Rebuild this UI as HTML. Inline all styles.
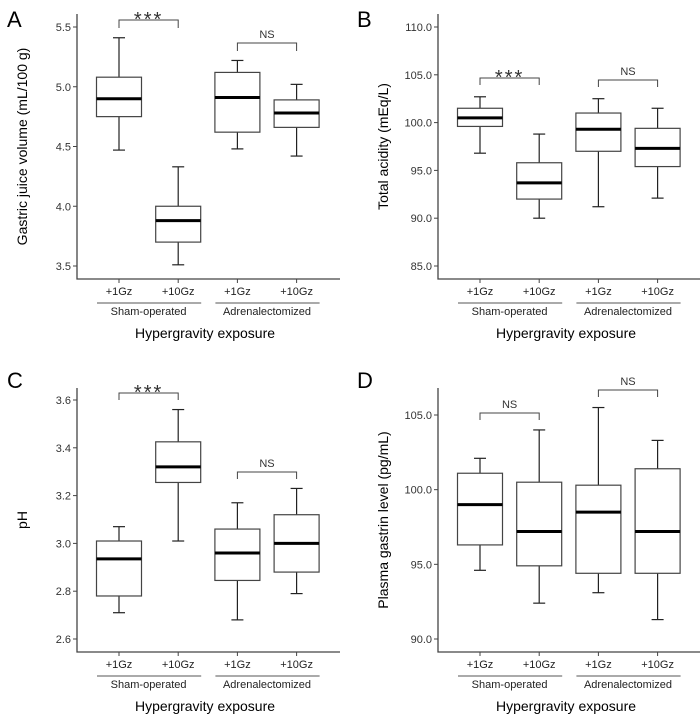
<!DOCTYPE html>
<html><head><meta charset="utf-8"><style>
body{margin:0;background:#fff}
svg{display:block;font-family:"Liberation Sans",sans-serif}
</style></head><body>
<svg id="fig" width="700" height="722" viewBox="0 0 700 722"></svg>
<script>
const groupLabels = ["+1Gz","+10Gz","+1Gz","+10Gz"];
const aWhiskLo=[4.47,3.51,4.48,4.42], aQ1=[4.75,3.70,4.62,4.66], aMed=[4.90,3.88,4.91,4.78], aQ3=[5.08,4.00,5.12,4.89], aWhiskHi=[5.41,4.33,5.22,5.02];
const aTicks=[3.5,4.0,4.5,5.0,5.5];
const bWhiskLo=[96.8,90.0,91.2,92.1], bQ1=[99.6,92.0,97.0,95.4], bMed=[100.5,93.7,99.3,97.3], bQ3=[101.5,95.8,101.0,99.4], bWhiskHi=[102.7,98.8,102.5,101.5];
const bTicks=[85,90,95,100,105,110];
const cWhiskLo=[2.71,3.01,2.68,2.79], cQ1=[2.78,3.255,2.845,2.88], cMed=[2.935,3.32,2.96,3.00], cQ3=[3.01,3.425,3.06,3.12], cWhiskHi=[3.07,3.56,3.17,3.23];
const cTicks=[2.6,2.8,3.0,3.2,3.4,3.6];
const dWhiskLo=[94.6,92.4,93.1,91.3], dQ1=[96.3,94.9,94.4,94.4], dMed=[99.0,97.2,98.5,97.2], dQ3=[101.1,100.5,100.3,101.4], dWhiskHi=[102.1,104.0,105.5,103.3];
const dTicks=[90,95,100,105];
const NS="http://www.w3.org/2000/svg";
const svg=document.getElementById('fig');
function el(tag,attrs,parent,txt){const e=document.createElementNS(NS,tag);for(const k in attrs)e.setAttribute(k,attrs[k]);if(txt!==undefined)e.textContent=txt;(parent||svg).appendChild(e);return e;}
function panel(cfg){
  const g=el('g',{});
  
  
  const y=v=>cfg.y0+(v-cfg.v0)*(cfg.y1-cfg.y0)/(cfg.v1-cfg.v0);
  const xs=[0,1,2,3].map(i=>cfg.xl+42+i*59.2);
  const L=el('text',{x:cfg.ox+7,y:cfg.oy+27,'font-size':22},g,cfg.letter);
  
  const ax=el('path',{d:`M${cfg.xl},${cfg.top}V${cfg.xb}H${cfg.xl+263}`,stroke:'#444',fill:'none','stroke-width':1.3},g);
  
  cfg.ticks.forEach(t=>{
    const yy=y(t);
    el('line',{x1:cfg.xl-4,x2:cfg.xl,y1:yy,y2:yy,stroke:'#444'},g);
    const tl=el('text',{x:cfg.xl-6,y:yy+4,'font-size':11,'text-anchor':'end',fill:'#333'},g,t.toFixed(1));
    
  });
  const yt=el('text',{x:0,y:0,'font-size':14,'text-anchor':'middle',transform:`translate(${cfg.xl-50},${(cfg.top+cfg.xb)/2}) rotate(-90)`},g,cfg.title);
  
  xs.forEach((x,i)=>{
    el('line',{x1:x,x2:x,y1:cfg.xb,y2:cfg.xb+4,stroke:'#444'},g);
    const xl=el('text',{x:x,y:cfg.xb+16,'font-size':11,'text-anchor':'middle',fill:'#222'},g,groupLabels[i]);
    
    const bx=el('g',{},g);
    
    el('line',{x1:x,x2:x,y1:y(cfg.lo[i]),y2:y(cfg.hi[i]),stroke:'#222','stroke-width':1.2},bx);
    el('line',{x1:x-6,x2:x+6,y1:y(cfg.lo[i]),y2:y(cfg.lo[i]),stroke:'#222','stroke-width':1.2},bx);
    el('line',{x1:x-6,x2:x+6,y1:y(cfg.hi[i]),y2:y(cfg.hi[i]),stroke:'#222','stroke-width':1.2},bx);
    el('rect',{x:x-22.5,y:y(cfg.q3[i]),width:45,height:y(cfg.q1[i])-y(cfg.q3[i]),fill:'#fff',stroke:'#444','stroke-width':1.2},bx);
    el('line',{x1:x-22.5,x2:x+22.5,y1:y(cfg.med[i]),y2:y(cfg.med[i]),stroke:'#000','stroke-width':3},bx);
  });
  [[0,'Sham-operated'],[2,'Adrenalectomized']].forEach(([i,t])=>{
    el('line',{x1:xs[i]-22,x2:xs[i+1]+23,y1:cfg.xb+24,y2:cfg.xb+24,stroke:'#555'},g);
    const gl=el('text',{x:(xs[i]+xs[i+1])/2,y:cfg.xb+36,'font-size':11,'text-anchor':'middle',fill:'#222'},g,t);
    
  });
  const xt=el('text',{x:cfg.xl+128,y:cfg.xb+59,'font-size':14,'text-anchor':'middle'},g,'Hypergravity exposure');
  
  cfg.br.forEach(([i,by,tip,lab])=>{
    const b=el('g',{},g);
    
    el('path',{d:`M${xs[i]},${by+tip}V${by}H${xs[i+1]}V${by+tip}`,stroke:'#444',fill:'none'},b);
    el('text',{x:(xs[i]+xs[i+1])/2,y:lab==='NS'?by-5:by+6,'font-size':lab==='NS'?11:20,'letter-spacing':lab==='NS'?0:2,'text-anchor':'middle',fill:'#333'},b,lab);
  });
}
panel({letter:'A',ox:0,oy:0,xl:77,top:14,xb:279,y0:266,y1:27,v0:3.5,v1:5.5,ticks:aTicks,title:'Gastric juice volume (mL/100 g)',lo:aWhiskLo,q1:aQ1,med:aMed,q3:aQ3,hi:aWhiskHi,br:[[0,20,8,'***'],[2,43,8,'NS']]});
panel({letter:'B',ox:350,oy:0,xl:438,top:14,xb:279,y0:266,y1:27,v0:85,v1:110,ticks:bTicks,title:'Total acidity (mEq/L)',lo:bWhiskLo,q1:bQ1,med:bMed,q3:bQ3,hi:bWhiskHi,br:[[0,78,7,'***'],[2,80,7,'NS']]});
panel({letter:'C',ox:0,oy:361,xl:77,top:388,xb:652,y0:639,y1:400,v0:2.6,v1:3.6,ticks:cTicks,title:'pH',lo:cWhiskLo,q1:cQ1,med:cMed,q3:cQ3,hi:cWhiskHi,br:[[0,393,7,'***'],[2,472,7,'NS']]});
panel({letter:'D',ox:350,oy:361,xl:438,top:388,xb:652,y0:639,y1:415,v0:90,v1:105,ticks:dTicks,title:'Plasma gastrin level (pg/mL)',lo:dWhiskLo,q1:dQ1,med:dMed,q3:dQ3,hi:dWhiskHi,br:[[0,413,7,'NS'],[2,390,7,'NS']]});
</script>
</body></html>
